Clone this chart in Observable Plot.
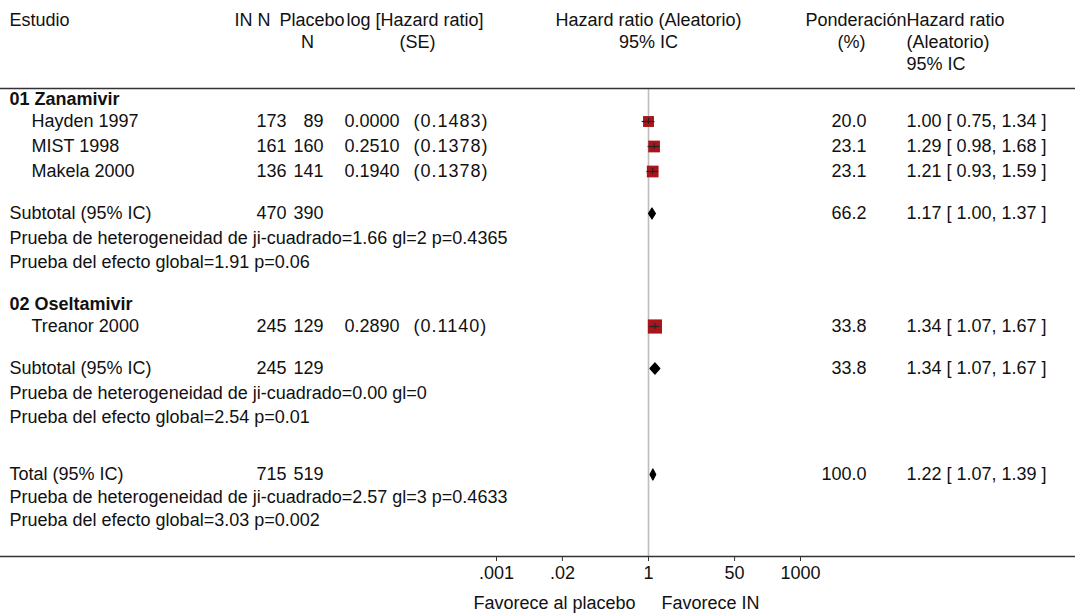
<!DOCTYPE html>
<html><head><meta charset="utf-8">
<script src="https://cdn.jsdelivr.net/npm/d3@7"></script>
<script src="https://cdn.jsdelivr.net/npm/@observablehq/plot@0.6"></script>
<style>body{margin:0;background:#fff}</style>
</head><body><div id="chart"></div>
<script>
// ---------- data ----------
const studyNames = ["Hayden 1997", "MIST 1998", "Makela 2000", "Treanor 2000"];
const studyGroup = [0, 0, 0, 1];
const studyInN = [173, 161, 136, 245];
const studyPlaceboN = [89, 160, 141, 129];
const studyLogHR = ["0.0000", "0.2510", "0.1940", "0.2890"];
const studySE = ["(0.1483)", "(0.1378)", "(0.1378)", "(0.1140)"];
const studyWeight = [20.0, 23.1, 23.1, 33.8];
const studyHR = [1.00, 1.29, 1.21, 1.34];
const studyLo = [0.75, 0.98, 0.93, 1.07];
const studyHi = [1.34, 1.68, 1.59, 1.67];

const groupNames = ["01 Zanamivir", "02 Oseltamivir"];
const groupInN = [470, 245];
const groupPlaceboN = [390, 129];
const groupWeight = [66.2, 33.8];
const groupHR = [1.17, 1.34];
const groupLo = [1.00, 1.07];
const groupHi = [1.37, 1.67];
const groupHeterogeneity = [
  "Prueba de heterogeneidad de ji-cuadrado=1.66 gl=2 p=0.4365",
  "Prueba de heterogeneidad de ji-cuadrado=0.00 gl=0"
];
const groupOverall = ["Prueba del efecto global=1.91 p=0.06", "Prueba del efecto global=2.54 p=0.01"];
const subtotalLabel = "Subtotal (95% IC)";

const totalLabel = "Total (95% IC)";
const totalInN = [715];
const totalPlaceboN = [519];
const totalWeight = [100.0];
const totalHR = [1.22];
const totalLo = [1.07];
const totalHi = [1.39];
const totalHeterogeneity = ["Prueba de heterogeneidad de ji-cuadrado=2.57 gl=3 p=0.4633"];
const totalOverall = ["Prueba del efecto global=3.03 p=0.002"];

const xTicks = [0.001, 0.02, 1, 50, 1000];
const xTickLabels = [".001", ".02", "1", "50", "1000"];
const favourLabels = ["Favorece al placebo", "Favorece IN"];

const headerStudy = ["Estudio"];
const headerInN = ["IN N"];
const headerPlacebo = ["Placebo", "N"];
const headerLogHR = ["log [Hazard ratio]", "(SE)"];
const headerPlot = ["Hazard ratio (Aleatorio)", "95% IC"];
const headerWeight = ["Ponderación", "(%)"];
const headerHR = ["Hazard ratio", "(Aleatorio)", "95% IC"];

// ---------- layout ----------
const FS = 18;
const INK = "#111";
const HEAD_Y = [20, 42, 64];
const TOP_Y = 88, AXIS_Y = 556, TICK_LABEL_Y = 573, FAVOUR_Y = 603;
// column: left offset (px), text anchor, extra letter spacing
const COLS = {
  label:   {px: 9,   anchor: "start"},
  study:   {px: 31,  anchor: "start"},
  inN:     {px: 286, anchor: "end"},
  placebo: {px: 323, anchor: "end"},
  logHR:   {px: 344, anchor: "start"},
  se:      {px: 413, anchor: "start", spacing: 1},
  weight:  {px: 866, anchor: "end"},
  hr:      {px: 906, anchor: "start"},
  hInN:    {px: 234, anchor: "start"},
  hPlac:   {px: 279, anchor: "start"},
  hPlacN:  {px: 307, anchor: "middle"},
  hLog:    {px: 346, anchor: "start"},
  hSE:     {px: 417, anchor: "middle"},
  hWeight: {px: 906, anchor: "end"},
  hPct:    {px: 851, anchor: "middle"}
};
const GAP = {groupToStudy: 22, study: 25, toSubtotal: 42, stat: 24.5, toGroup: 42, toTotal: 57, totalStat: 23};
const fmtCI = (h, l, u) => `${h.toFixed(2)} [ ${l.toFixed(2)}, ${u.toFixed(2)} ]`;

const texts = [];    // {y, text, col, bold}
const studies = [];  // forest squares
const diamonds = []; // summary diamonds
const put = (y, text, col, bold = false) => texts.push({y, text, col, bold});
let cursor = 99;
groupNames.forEach((g, gi) => {
  put(cursor, g, "label", true);
  cursor += GAP.groupToStudy;
  studyNames.forEach((s, i) => {
    if (studyGroup[i] !== gi) return;
    put(cursor, s, "study");
    put(cursor, String(studyInN[i]), "inN");
    put(cursor, String(studyPlaceboN[i]), "placebo");
    put(cursor, studyLogHR[i], "logHR");
    put(cursor, studySE[i], "se");
    put(cursor, studyWeight[i].toFixed(1), "weight");
    put(cursor, fmtCI(studyHR[i], studyLo[i], studyHi[i]), "hr");
    studies.push({y: cursor, hr: studyHR[i], lo: studyLo[i], hi: studyHi[i], w: studyWeight[i]});
    cursor += GAP.study;
  });
  cursor += GAP.toSubtotal - GAP.study;
  put(cursor, subtotalLabel, "label");
  put(cursor, String(groupInN[gi]), "inN");
  put(cursor, String(groupPlaceboN[gi]), "placebo");
  put(cursor, groupWeight[gi].toFixed(1), "weight");
  put(cursor, fmtCI(groupHR[gi], groupLo[gi], groupHi[gi]), "hr");
  diamonds.push({id: "g" + gi, y: cursor, hr: groupHR[gi], lo: groupLo[gi], hi: groupHi[gi]});
  cursor += GAP.stat;
  put(cursor, groupHeterogeneity[gi], "label");
  cursor += GAP.stat;
  put(cursor, groupOverall[gi], "label");
  cursor += gi < groupNames.length - 1 ? GAP.toGroup : GAP.toTotal;
});
put(cursor, totalLabel, "label");
put(cursor, String(totalInN[0]), "inN");
put(cursor, String(totalPlaceboN[0]), "placebo");
put(cursor, totalWeight[0].toFixed(1), "weight");
put(cursor, fmtCI(totalHR[0], totalLo[0], totalHi[0]), "hr");
diamonds.push({id: "t", y: cursor, hr: totalHR[0], lo: totalLo[0], hi: totalHi[0]});
cursor += GAP.totalStat;
put(cursor, totalHeterogeneity[0], "label");
cursor += GAP.totalStat;
put(cursor, totalOverall[0], "label");

// headers
put(HEAD_Y[0], headerStudy[0], "label");
put(HEAD_Y[0], headerInN[0], "hInN");
put(HEAD_Y[0], headerPlacebo[0], "hPlac");
put(HEAD_Y[1], headerPlacebo[1], "hPlacN");
put(HEAD_Y[0], headerLogHR[0], "hLog");
put(HEAD_Y[1], headerLogHR[1], "hSE");
put(HEAD_Y[0], headerWeight[0], "hWeight");
put(HEAD_Y[1], headerWeight[1], "hPct");
headerHR.forEach((t, i) => put(HEAD_Y[i], t, "hr"));
const headerPlotRows = headerPlot.map((t, i) => ({y: HEAD_Y[i], text: t}));

const DH = 5.5; // diamond half height
const diamondPts = diamonds.flatMap(d => [
  {id: d.id, x: d.lo, y: d.y}, {id: d.id, x: d.hr, y: d.y - DH},
  {id: d.id, x: d.hi, y: d.y}, {id: d.id, x: d.hr, y: d.y + DH}, {id: d.id, x: d.lo, y: d.y}
]);

const textMarks = Object.entries(COLS).flatMap(([key, c]) =>
  [false, true].map(bold => Plot.text(texts.filter(t => t.col === key && t.bold === bold), {
    y: "y", text: "text", frameAnchor: "left", dx: c.px, textAnchor: c.anchor,
    fill: INK, fontWeight: bold ? "bold" : "normal",
    render: c.spacing ? (index, scales, values, dims, ctx, next) => {
      const g = next(index, scales, values, dims, ctx);
      g.querySelectorAll("text").forEach(t => t.style.letterSpacing = c.spacing + "px");
      return g;
    } : undefined
  }))
);
const tickRows = xTicks.map((t, i) => ({x: t, label: xTickLabels[i]}));

const chart = Plot.plot({
  width: 1075, height: 613,
  marginTop: TOP_Y, marginBottom: 613 - AXIS_Y, marginLeft: 0, marginRight: 0,
  x: {type: "log", domain: [0.001, 1000], range: [496, 800], axis: null},
  y: {domain: [0, 613], range: [0, 613], axis: null},
  r: {domain: [0, 33.8], range: [0, 8]},
  style: {fontFamily: "'Liberation Sans', Arial, sans-serif", fontSize: FS + "px", color: INK, background: "#fff"},
  marks: [
    Plot.ruleX([1], {stroke: "#bdbdbd", strokeWidth: 1.6}),
    Plot.frame({anchor: "top", stroke: "#333", strokeWidth: 1.6}),
    Plot.frame({anchor: "bottom", stroke: "#333", strokeWidth: 1.5}),
    Plot.ruleX(tickRows, {x: "x", y1: AXIS_Y, y2: AXIS_Y + 5, stroke: "#333"}),
    Plot.text(tickRows, {x: "x", y: TICK_LABEL_Y, text: "label", textAnchor: "middle", fill: INK}),
    Plot.text([favourLabels[0]], {x: () => 1, y: () => FAVOUR_Y, text: d => d, textAnchor: "end", dx: -13, fill: INK}),
    Plot.text([favourLabels[1]], {x: () => 1, y: () => FAVOUR_Y, text: d => d, textAnchor: "start", dx: 13, fill: INK}),
    Plot.dot(studies, {x: "hr", y: "y", r: "w", symbol: "square", fill: "#a8161b", stroke: "none"}),
    Plot.ruleY(studies, {x1: "lo", x2: "hi", y: "y", stroke: "#222", strokeWidth: 1.2}),
    Plot.ruleX(studies, {x: "hr", y1: d => d.y - 3, y2: d => d.y + 3, stroke: "#222", strokeWidth: 1}),
    Plot.line(diamondPts, {x: "x", y: "y", z: "id", fill: "#000", stroke: "#000", strokeWidth: 1.2}),
    Plot.text(headerPlotRows, {x: () => 1, y: "y", text: "text", textAnchor: "middle", fill: INK}),
    ...textMarks
  ]
});
document.getElementById("chart").appendChild(chart);
</script>
</body></html>
